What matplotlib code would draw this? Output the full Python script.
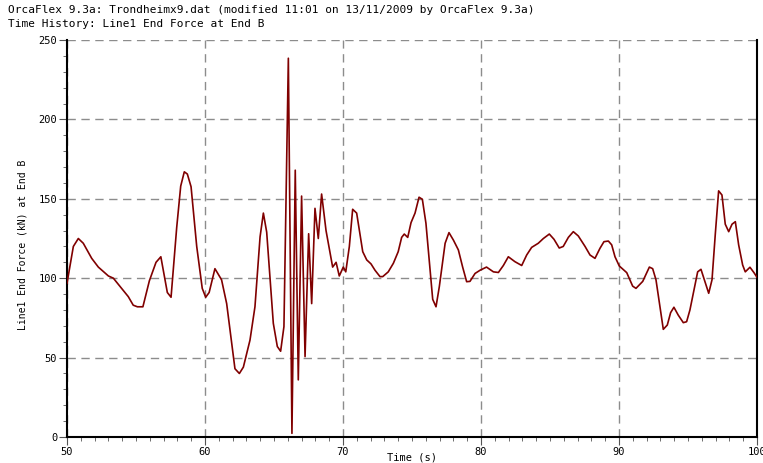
import numpy as np
import matplotlib
matplotlib.use("Agg")
import matplotlib.pyplot as plt
from matplotlib.ticker import MultipleLocator

TITLE1 = "OrcaFlex 9.3a: Trondheimx9.dat (modified 11:01 on 13/11/2009 by OrcaFlex 9.3a)"
TITLE2 = "Time History: Line1 End Force at End B"
XLABEL = "Time (s)"
YLABEL = "Line1 End Force (kN) at End B"

# values
time = [50.0, 50.46, 50.82, 51.18, 51.79, 52.27, 53.0, 53.36, 54.44, 54.8,
        55.1, 55.5, 55.97, 56.45, 56.8, 57.27, 57.54, 57.95, 58.24, 58.5,
        58.72, 58.99, 59.4, 59.8, 60.05, 60.3, 60.72, 61.2, 61.57, 62.17,
        62.49, 62.78, 63.26, 63.62, 63.99, 64.23, 64.47, 64.95, 65.24, 65.48,
        65.72, 66.04, 66.3, 66.54, 66.76, 67.0, 67.25, 67.51, 67.73, 67.97,
        68.21, 68.45, 68.77, 69.25, 69.5, 69.73, 70.02, 70.2, 70.46, 70.7,
        70.99, 71.43, 71.72, 72.03, 72.32, 72.68, 72.88, 73.28, 73.65, 74.0,
        74.25, 74.44, 74.69, 74.93, 75.22, 75.51, 75.75, 76.01, 76.5, 76.74,
        76.98, 77.4, 77.68, 78.0, 78.36, 78.67, 78.96, 79.2, 79.57, 79.93,
        80.4, 80.9, 81.26, 81.62, 81.98, 82.46, 82.95, 83.31, 83.67, 84.15,
        84.52, 84.95, 85.29, 85.67, 85.96, 86.33, 86.69, 87.05, 87.54, 87.9,
        88.26, 88.62, 88.91, 89.23, 89.47, 89.71, 90.02, 90.56, 90.99, 91.23,
        91.72, 92.2, 92.44, 92.68, 92.97, 93.21, 93.5, 93.74, 93.98, 94.29,
        94.66, 94.9, 95.14, 95.43, 95.7, 95.94, 96.23, 96.5, 96.74, 96.98,
        97.22, 97.46, 97.7, 97.95, 98.19, 98.43, 98.67, 98.96, 99.15, 99.49,
        99.78, 100.0]
force = [96.8, 120, 125, 122, 112.5, 107, 101.4, 100, 88.4, 83,
         82, 82, 98.4, 110, 113.5, 91, 88, 132, 158, 167,
         165.6, 157.6, 120, 93.6, 88, 91, 106, 99, 84, 43,
         40, 44, 61, 82, 126, 141, 129, 71.6, 57, 54,
         69.5, 238.5, 2.3, 168, 36, 151.7, 50.6, 128, 84, 144,
         125, 153, 130, 107, 110, 101.4, 107, 104, 120, 143.4,
         141, 116.7, 111.5, 109, 105, 101, 101, 104, 109.4, 116.7,
         125.7, 127.8, 125.7, 135, 141, 151, 149.7, 134.6, 86.7, 82,
         94.7, 122, 128.7, 124, 117.8, 107, 97.8, 98, 103, 105,
         107, 104, 103.6, 108, 113.5, 110.4, 108, 114.6, 119.4, 122,
         125, 127.8, 124.5, 119, 120, 125.7, 129.3, 126.6, 120, 114.6,
         112.5, 118.8, 123, 123.4, 121, 113.5, 107.7, 103.5, 95, 93.6,
         98, 107, 106, 99, 82, 67.8, 70.5, 78.3, 81.7, 76.8,
         72, 72.6, 80, 92.6, 104, 105.6, 97.8, 90.5, 99, 128,
         155, 152.4, 134, 129.3, 134, 135.6, 121, 108.3, 104, 106.9,
         103.5, 100.6]

FONT = "DejaVu Sans Mono"

fig = plt.figure(figsize=(7.63, 4.63), dpi=100)
ax = fig.add_axes([67 / 763, 26 / 463, 690 / 763, 397 / 463])

ax.plot(time, force, color="#800000", linewidth=1.2, zorder=3)

ax.set_xlim(50, 100)
ax.set_ylim(0, 250)
ax.xaxis.set_major_locator(MultipleLocator(10))
ax.xaxis.set_minor_locator(MultipleLocator(1))
ax.yaxis.set_major_locator(MultipleLocator(50))
ax.yaxis.set_minor_locator(MultipleLocator(10))

ax.grid(True, which="major", color="#8c8c8c", linestyle=(0, (6, 4)), linewidth=1.0)
ax.set_axisbelow(True)

for s in ["left", "bottom", "right"]:
    ax.spines[s].set_linewidth(1.5)
    ax.spines[s].set_color("black")
ax.spines["top"].set_visible(False)

ax.tick_params(which="major", direction="out", length=5.5, width=0.8, color="#555555",
               pad=1.5)
ax.tick_params(which="minor", direction="out", length=3, width=0.6, color="#555555")
for lab in ax.get_xticklabels() + ax.get_yticklabels():
    lab.set_fontfamily(FONT)
    lab.set_fontsize(7.5)

fig.text((67 + 757) / 2 / 763, 1 - 457 / 463, XLABEL, fontfamily=FONT, fontsize=7.5,
         ha="center", va="center")
fig.text(23 / 763, 1 - 245 / 463, YLABEL, fontfamily=FONT, fontsize=7, rotation=90,
         ha="center", va="center")

fig.text(8 / 763, 1 - 10 / 463, TITLE1, fontfamily=FONT, fontsize=8, va="center", ha="left")
fig.text(8 / 763, 1 - 24 / 463, TITLE2, fontfamily=FONT, fontsize=8, va="center", ha="left")

fig.savefig("out.png", dpi=100)
